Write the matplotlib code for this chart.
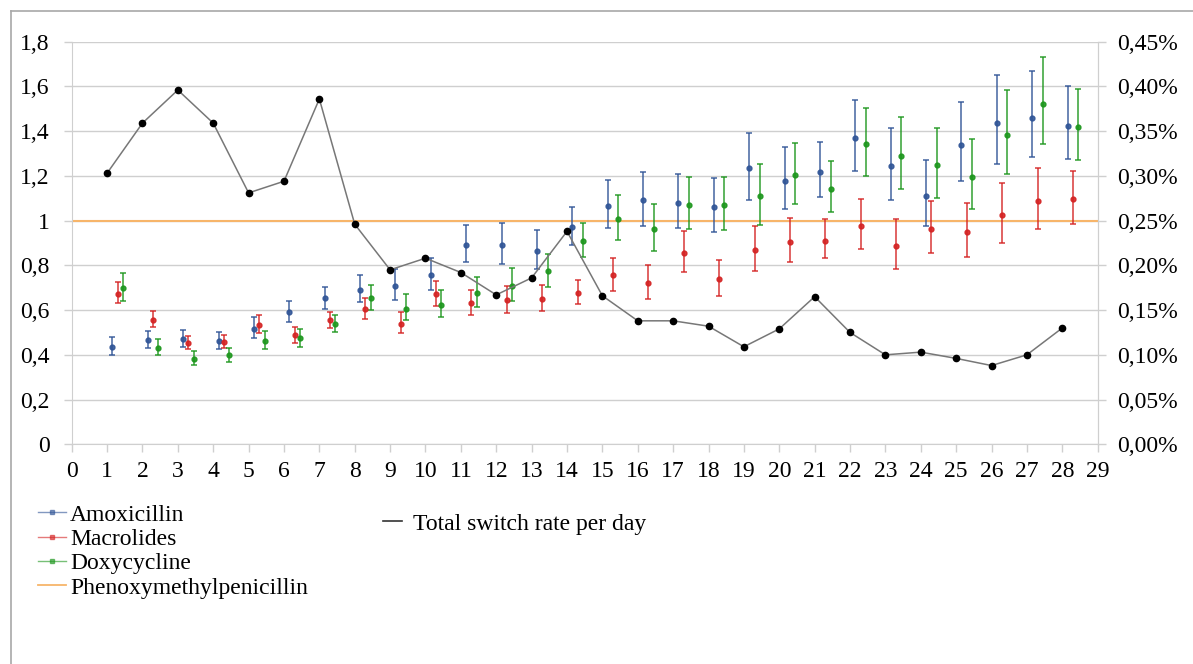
import numpy as np
import matplotlib.pyplot as plt
from matplotlib.lines import Line2D
from matplotlib.ticker import FuncFormatter, MultipleLocator

plt.rcParams['font.family'] = ['Liberation Serif', 'DejaVu Serif']

days = np.arange(1, 29)

# relative switch rates with confidence limits
amox = [0.437, 0.467, 0.471, 0.462, 0.517, 0.590, 0.653, 0.691, 0.708, 0.759, 0.890, 0.890, 0.862, 0.970,
        1.067, 1.090, 1.080, 1.061, 1.234, 1.179, 1.218, 1.368, 1.242, 1.111, 1.339, 1.437, 1.461, 1.425]
amox_lo = [0.401, 0.431, 0.436, 0.427, 0.477, 0.545, 0.607, 0.637, 0.646, 0.692, 0.813, 0.806, 0.784, 0.893,
           0.966, 0.978, 0.967, 0.950, 1.090, 1.053, 1.104, 1.221, 1.092, 0.975, 1.179, 1.255, 1.284, 1.276]
amox_hi = [0.481, 0.508, 0.510, 0.504, 0.569, 0.641, 0.702, 0.756, 0.784, 0.834, 0.981, 0.988, 0.957, 1.061,
           1.181, 1.219, 1.210, 1.190, 1.394, 1.327, 1.351, 1.538, 1.413, 1.270, 1.529, 1.652, 1.667, 1.601]

macro = [0.674, 0.557, 0.453, 0.456, 0.533, 0.487, 0.554, 0.606, 0.539, 0.672, 0.630, 0.643, 0.650, 0.676,
         0.756, 0.719, 0.855, 0.738, 0.867, 0.905, 0.911, 0.976, 0.886, 0.964, 0.950, 1.024, 1.089, 1.096]
macro_lo = [0.632, 0.524, 0.427, 0.430, 0.498, 0.452, 0.521, 0.560, 0.496, 0.619, 0.576, 0.585, 0.594, 0.625,
            0.686, 0.648, 0.770, 0.664, 0.773, 0.815, 0.832, 0.874, 0.784, 0.856, 0.837, 0.898, 0.962, 0.987]
macro_hi = [0.724, 0.596, 0.484, 0.490, 0.576, 0.524, 0.591, 0.655, 0.591, 0.730, 0.689, 0.708, 0.714, 0.733,
            0.833, 0.801, 0.952, 0.825, 0.978, 1.013, 1.006, 1.095, 1.006, 1.089, 1.080, 1.168, 1.236, 1.221]

doxy = [0.698, 0.430, 0.381, 0.397, 0.464, 0.474, 0.538, 0.653, 0.607, 0.621, 0.677, 0.708, 0.773, 0.908,
        1.006, 0.962, 1.071, 1.068, 1.110, 1.203, 1.142, 1.341, 1.290, 1.249, 1.196, 1.384, 1.521, 1.419]
doxy_lo = [0.641, 0.397, 0.354, 0.369, 0.427, 0.437, 0.502, 0.601, 0.554, 0.567, 0.616, 0.639, 0.701, 0.837,
           0.914, 0.864, 0.962, 0.959, 0.981, 1.076, 1.039, 1.199, 1.140, 1.102, 1.050, 1.210, 1.344, 1.272]
doxy_hi = [0.766, 0.471, 0.415, 0.430, 0.508, 0.516, 0.579, 0.711, 0.670, 0.688, 0.747, 0.787, 0.853, 0.988,
           1.114, 1.074, 1.196, 1.196, 1.253, 1.348, 1.265, 1.505, 1.464, 1.416, 1.367, 1.584, 1.730, 1.588]

# total switch rate per day, in percent (right axis)
total_pct = [0.303, 0.359, 0.396, 0.359, 0.281, 0.294, 0.386, 0.246, 0.195, 0.208, 0.192, 0.167, 0.186, 0.238,
             0.166, 0.138, 0.138, 0.132, 0.109, 0.129, 0.165, 0.125, 0.100, 0.103, 0.096, 0.088, 0.100, 0.130]

series = [
    ('Amoxicillin', amox, amox_lo, amox_hi, '#2F5496', 0.15),
    ('Macrolides', macro, macro_lo, macro_hi, '#D42222', 0.30),
    ('Doxycycline', doxy, doxy_lo, doxy_hi, '#1C961C', 0.45),
]
pen_color = '#F7B56A'
grid_c = '#cfcfcf'
fs = 17

fig = plt.figure(figsize=(11.93, 6.64), dpi=100)
ax = fig.add_axes([0.0601, 0.3309, 0.8600, 0.6063])

for name, v, lo, hi, c, off in series:
    v = np.array(v)
    err = [v - np.array(lo), np.array(hi) - v]
    ax.errorbar(days + off, v, yerr=err, fmt='o', color=c, ms=3.5, ecolor=c,
                elinewidth=1.1, capsize=2.4, capthick=1.1, alpha=0.9, zorder=3)

ax.axhline(1, color=pen_color, lw=1.5, zorder=2)

ax.set_xlim(0, 29)
ax.set_ylim(0, 1.8)
ax.xaxis.set_major_locator(MultipleLocator(1))
ax.yaxis.set_major_locator(MultipleLocator(0.2))
ax.yaxis.set_major_formatter(FuncFormatter(
    lambda y, p: str(int(round(y))) if abs(y - round(y)) < 1e-6 else ('%.1f' % y).replace('.', ',')))
ax.grid(axis='y', color=grid_c, lw=1)
ax.set_axisbelow(True)
ax.spines['top'].set_visible(False)
for s in ['left', 'bottom', 'right']:
    ax.spines[s].set_color(grid_c)
ax.tick_params(axis='both', colors=grid_c, labelcolor='black', labelsize=fs, length=6, width=1)
ax.tick_params(axis='y', pad=10)
ax.tick_params(axis='x', pad=6)

ax2 = ax.twinx()
ax2.plot(days, total_pct, color='#777777', lw=1.1, marker='o', ms=4.5,
         markerfacecolor='black', markeredgecolor='black', zorder=4)
ax2.set_ylim(0, 0.45)
ax2.yaxis.set_major_locator(MultipleLocator(0.05))
ax2.yaxis.set_major_formatter(FuncFormatter(lambda y, p: ('%.2f%%' % y).replace('.', ',')))
for s in ['top', 'left', 'bottom']:
    ax2.spines[s].set_visible(False)
ax2.spines['right'].set_color(grid_c)
ax2.tick_params(axis='y', colors=grid_c, labelcolor='black', labelsize=fs, length=6, width=1, pad=8)

# legends
handles = [Line2D([0], [0], color=c, lw=1, alpha=0.6, marker='s', ms=2.2,
                  markerfacecolor=c, markeredgecolor=c) for _, _, _, _, c, _ in series]
handles.append(Line2D([0], [0], color=pen_color, lw=1.3))
labels = [s[0] for s in series] + ['Phenoxymethylpenicillin']
fig.legend(handles, labels, loc='upper left', bbox_to_anchor=(38 / 1193, 1 - 504 / 664),
           frameon=False, fontsize=fs, handlelength=1.2, handletextpad=0.15,
           labelspacing=0.12, borderpad=0, borderaxespad=0)
fig.legend([Line2D([0], [0], color='#333333', lw=1.2)], ['Total switch rate per day'],
           loc='upper left', bbox_to_anchor=(383 / 1193, 1 - 513 / 664),
           frameon=False, fontsize=fs, handlelength=0.8, handletextpad=0.45,
           borderpad=0, borderaxespad=0)

# outer frame of the chart area
fig.add_artist(Line2D([11 / 1193, 1], [1 - 11 / 664, 1 - 11 / 664], color='#a8a8a8', lw=1.2))
fig.add_artist(Line2D([11 / 1193, 11 / 1193], [0, 1 - 11 / 664], color='#a8a8a8', lw=1.2))

fig.savefig('out.png', dpi=100)
